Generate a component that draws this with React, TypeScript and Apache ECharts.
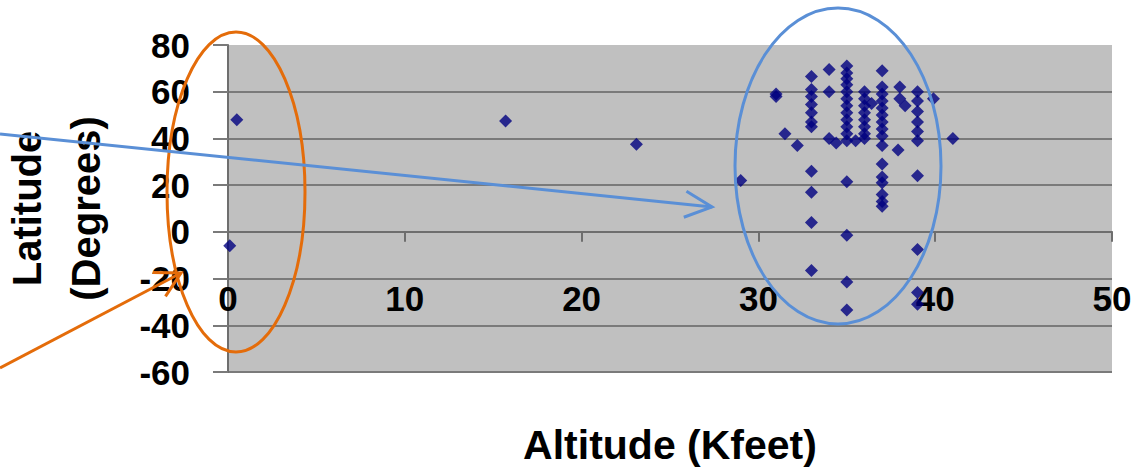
import React, { useEffect, useRef } from "react";
import * as echarts from "echarts";

// Altitude (Kfeet), Latitude (Degrees)
const altitude: number[] = [
  0.5, 0.1, 15.7, 23.1, 29,
  31, 31, 31.5, 32.2,
  33, 33, 33, 33, 33, 33, 33, 33, 33, 33, 33,
  34, 34, 34, 34.4,
  35, 35, 35, 35, 35, 35, 35, 35, 35, 35, 35, 35, 35.5, 35, 35, 35, 35,
  36, 36, 36, 36, 36, 36, 36, 36, 36.4,
  37, 37, 37, 37, 37, 37, 37, 37, 37, 37, 37, 37, 37, 37, 37, 37,
  38, 38, 38.3, 37.9,
  39, 39, 39, 39, 39, 39, 39, 39, 39, 39,
  39.9, 41,
];
const latitude: number[] = [
  48, -6, 47.5, 37.5, 22,
  58, 59, 42, 37,
  66.5, 61, 58, 54.5, 51, 47, 45, 26, 17, 4, -16.5,
  69.5, 60, 40, 38,
  71, 68, 65.5, 63, 60, 57, 54, 51, 48, 45, 42, 39, 39, 21.5, -1.5, -21.5, -33.5,
  60, 57, 54, 51, 48, 45, 42, 40, 55,
  69, 62, 59, 56, 53, 50, 47, 44, 41, 37, 29, 23.5, 21, 16, 13, 11,
  62, 57, 54, 35,
  60, 56, 51.5, 47, 43, 39, 24, -7.5, -26, -31,
  57, 40,
];

const xTicks = { min: 0, max: 50, interval: 10 };
const yTicks = { min: -60, max: 80, interval: 20 };

function arrowHead(tip: number[], from: number[], len: number, ang: number) {
  const dx = from[0] - tip[0];
  const dy = from[1] - tip[1];
  const a = Math.atan2(dy, dx);
  const p1 = [tip[0] + len * Math.cos(a + ang), tip[1] + len * Math.sin(a + ang)];
  const p2 = [tip[0] + len * Math.cos(a - ang), tip[1] + len * Math.sin(a - ang)];
  return [p1, tip, p2];
}

export default function App() {
  const ref = useRef<HTMLDivElement>(null);
  useEffect(() => {
    if (!ref.current) return;
    const chart = echarts.init(ref.current, null, { renderer: "svg" });
    const data = altitude.map((x, i) => [x, latitude[i]]);
    const blue = "#5A8FD6";
    const orange = "#E46C0A";
    const blueStart = [0, 134];
    const blueTip = [712, 207];
    const orangeStart = [0, 368];
    const orangeTip = [181, 273];
    const font = "'Liberation Sans', Arial, sans-serif";
    const gridTop = 45;
    const gridBottomY = 372;
    const zeroOffset = -((gridBottomY - gridTop) * (0 - yTicks.min)) / (yTicks.max - yTicks.min);
    chart.setOption({
      animation: false,
      backgroundColor: "#ffffff",
      grid: {
        left: 228, right: 26, top: gridTop, bottom: 470 - gridBottomY,
        containLabel: false, outerBoundsMode: "none",
        show: true, backgroundColor: "#c0c0c0", borderWidth: 0,
      },
      xAxis: [
        {
          type: "value",
          min: xTicks.min,
          max: xTicks.max,
          interval: xTicks.interval,
          position: "bottom",
          name: "Altitude (Kfeet)",
          nameLocation: "middle",
          nameGap: 52,
          nameMoveOverlap: false,
          nameTextStyle: { fontFamily: font, fontSize: 41, fontWeight: "bold", color: "#000" },
          axisLine: { show: false, onZero: false },
          axisTick: { show: false },
          axisLabel: { margin: -91, fontFamily: font, fontSize: 35, fontWeight: "bold", color: "#000", hideOverlap: false },
          splitLine: { show: false },
        },
        {
          type: "value",
          min: xTicks.min,
          max: xTicks.max,
          interval: xTicks.interval,
          position: "bottom",
          offset: zeroOffset,
          axisLine: { show: true, onZero: false, lineStyle: { color: "#6e6e6e", width: 2 } },
          axisTick: { show: true, length: 10, lineStyle: { color: "#6e6e6e", width: 2 } },
          axisLabel: { show: false },
          splitLine: { show: false },
        },
      ],
      yAxis: {
        type: "value",
        min: yTicks.min,
        max: yTicks.max,
        interval: yTicks.interval,
        name: "Latitude\n(Degrees)",
        nameLocation: "middle",
        nameRotate: 90,
        nameGap: 113,
        nameMoveOverlap: false,
        nameTextStyle: { fontFamily: font, fontSize: 40, fontWeight: "bold", color: "#000", lineHeight: 59 },
        axisLine: { show: true, onZero: false, lineStyle: { color: "#6e6e6e", width: 2 } },
        axisTick: { show: true, length: 15, lineStyle: { color: "#7a7a7a", width: 2 } },
        axisLabel: { margin: 38, fontFamily: font, fontSize: 35, fontWeight: "bold", color: "#000", hideOverlap: false },
        splitLine: { show: true, showMaxLine: false, lineStyle: { color: "#7a7a7a", width: 2 } },
      },
      series: [
        {
          type: "scatter",
          xAxisIndex: 0,
          data,
          symbol: "diamond",
          symbolSize: 13,
          itemStyle: { color: "#000080" },
        },
      ],
      graphic: [
        {
          type: "ellipse",
          z: 100,
          shape: { cx: 236, cy: 192, rx: 69, ry: 160 },
          style: { fill: "none", stroke: orange, lineWidth: 3 },
        },
        {
          type: "ellipse",
          z: 100,
          shape: { cx: 838, cy: 166, rx: 103, ry: 158 },
          style: { fill: "none", stroke: blue, lineWidth: 3 },
        },
        {
          type: "line",
          z: 100,
          shape: { x1: blueStart[0], y1: blueStart[1], x2: blueTip[0], y2: blueTip[1] },
          style: { stroke: blue, lineWidth: 3 },
        },
        {
          type: "polyline",
          z: 100,
          shape: { points: arrowHead(blueTip, blueStart, 30, 0.45) },
          style: { fill: "none", stroke: blue, lineWidth: 3 },
        },
        {
          type: "line",
          z: 100,
          shape: { x1: orangeStart[0], y1: orangeStart[1], x2: orangeTip[0], y2: orangeTip[1] },
          style: { stroke: orange, lineWidth: 3 },
        },
        {
          type: "polyline",
          z: 100,
          shape: { points: arrowHead(orangeTip, orangeStart, 28, 0.5) },
          style: { fill: "none", stroke: orange, lineWidth: 3 },
        },
      ],
    });
    return () => chart.dispose();
  }, []);
  return (
    <div
      ref={ref}
      style={{ position: "fixed", left: 0, top: 0, width: 1138, height: 470 }}
    />
  );
}
